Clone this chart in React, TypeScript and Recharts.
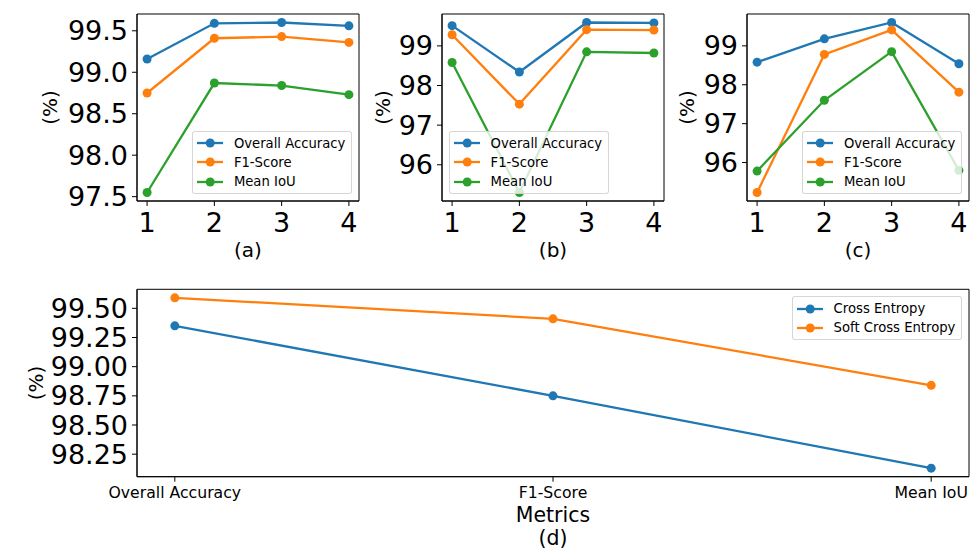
import {LineChart, Line, XAxis, YAxis, Legend, Label, ReferenceArea} from 'recharts';

const FONT = 'DejaVu Sans';
const COLORS = ['#1f77b4', '#ff7f0e', '#2ca02c'];

// panels (a)-(c): runs 1..4
const steps = [1, 2, 3, 4];
const metricNames = ['Overall Accuracy', 'F1-Score', 'Mean IoU'];

const aOverall = [99.16, 99.59, 99.60, 99.56];
const aF1 = [98.75, 99.41, 99.43, 99.36];
const aMiou = [97.55, 98.87, 98.84, 98.73];

const bOverall = [99.51, 98.34, 99.59, 99.58];
const bF1 = [99.28, 97.53, 99.41, 99.40];
const bMiou = [98.58, 95.30, 98.85, 98.82];

const cOverall = [98.58, 99.18, 99.60, 98.54];
const cF1 = [95.23, 98.78, 99.41, 97.81];
const cMiou = [95.78, 97.60, 98.85, 95.80];

const topTicksA = [97.5, 98.0, 98.5, 99.0, 99.5];
const topTicksBC = [96, 97, 98, 99];

// panel (d): loss comparison
const lossMetrics = ['Overall Accuracy', 'F1-Score', 'Mean IoU'];
const lossNames = ['Cross Entropy', 'Soft Cross Entropy'];
const crossEntropy = [99.35, 98.75, 98.13];
const softCrossEntropy = [99.59, 99.41, 98.84];
const dTicks = [98.25, 98.5, 98.75, 99.0, 99.25, 99.5];

// matplotlib-style 5% margins
const pad = (vals: number[]) => {
    const lo = Math.min(...vals);
    const hi = Math.max(...vals);
    const m = (hi - lo) * 0.05;
    return [lo - m, hi + m];
};

const makeLegend = (order: string[]) => ({payload}: any) => {
    const items = order.map(n => (payload || []).find((p: any) => p.value === n)).filter(Boolean);
    return (
        <div style={{
            background: 'rgba(255,255,255,0.8)',
            border: '1px solid rgba(204,204,204,0.8)',
            borderRadius: 3,
            padding: '2px 6px 2px 4px',
            fontFamily: FONT,
            fontSize: 13.2,
            color: '#000',
        }}>
            {items.map((p: any) => (
                <div key={p.value} style={{display: 'flex', alignItems: 'center', height: 19.3}}>
                    <svg width={26.4} height={10} style={{display: 'block'}}>
                        <line x1={0} y1={5} x2={26.4} y2={5} stroke={p.color} strokeWidth={2.3}/>
                        <circle cx={13.2} cy={5} r={4.5} fill={p.color}/>
                    </svg>
                    <span style={{marginLeft: 10.6, whiteSpace: 'nowrap', lineHeight: '19px'}}>{p.value}</span>
                </div>
            ))}
        </div>
    );
};

const tickStyle = {fontSize: 27, fill: '#000', fontFamily: FONT};
const axisLine = {stroke: '#000', strokeWidth: 1};
const dotFor = (c: string) => ({r: 4.5, fill: c, stroke: c, strokeWidth: 0});

interface PanelProps {
    left: number;
    yAxisW: number;
    yLabelOffset: number;
    overall: number[];
    f1: number[];
    miou: number[];
    ticks: number[];
    fmt: (v: number) => string;
    caption: string;
    legendSide: 'left' | 'right';
}

const PLOT_W = 222;
const PLOT_H = 187;
const TOP = 14;
const TOP_H = 290;
const X_DOMAIN = [0.85, 4.15];

const Panel = ({left, yAxisW, yLabelOffset, overall, f1, miou, ticks, fmt, caption, legendSide}: PanelProps) => {
    const rows = steps.map((x, i) => ({x, oa: overall[i], f1: f1[i], miou: miou[i]}));
    const width = yAxisW + PLOT_W + 3;
    const legendStyle: any = {width: 'auto', top: 'auto', bottom: TOP_H - (TOP + PLOT_H - 6.6)};
    if (legendSide === 'right') {
        legendStyle.left = 'auto';
        legendStyle.right = width - (yAxisW + PLOT_W - 6.6);
    } else {
        legendStyle.left = yAxisW + 6.6;
        legendStyle.right = 'auto';
    }
    const domain = pad([...overall, ...f1, ...miou]);
    return (
        <div style={{position: 'absolute', left, top: 0}}>
            <LineChart width={width} height={TOP_H} data={rows} margin={{top: TOP, right: 3, left: 0, bottom: 0}}>
                <XAxis type="number" dataKey="x" domain={X_DOMAIN} ticks={steps} height={TOP_H - TOP - PLOT_H}
                       tick={tickStyle} tickSize={5} tickMargin={7} axisLine={axisLine} tickLine={axisLine} interval={0}>
                    <Label value={caption} position="insideTop" offset={42}
                           style={{fontSize: 20, fill: '#000', fontFamily: FONT}}/>
                </XAxis>
                <YAxis type="number" domain={domain} ticks={ticks} tickFormatter={fmt} width={yAxisW} interval={0}
                       tick={tickStyle} tickSize={5} tickMargin={4} axisLine={axisLine} tickLine={axisLine}>
                    <Label value="(%)" angle={-90} position="insideLeft" offset={yLabelOffset}
                           style={{fontSize: 20, fill: '#000', fontFamily: FONT, textAnchor: 'middle'}}/>
                </YAxis>
                <ReferenceArea x1={X_DOMAIN[0]} x2={X_DOMAIN[1]} y1={domain[0]} y2={domain[1]}
                               fill="none" fillOpacity={0} stroke="#000" strokeWidth={1} ifOverflow="visible"/>
                <Legend layout="horizontal" verticalAlign="middle" align="center"
                        content={makeLegend(metricNames)} wrapperStyle={legendStyle}/>
                <Line dataKey="oa" name={metricNames[0]} stroke={COLORS[0]} strokeWidth={2.3}
                      dot={dotFor(COLORS[0])} isAnimationActive={false}/>
                <Line dataKey="f1" name={metricNames[1]} stroke={COLORS[1]} strokeWidth={2.3}
                      dot={dotFor(COLORS[1])} isAnimationActive={false}/>
                <Line dataKey="miou" name={metricNames[2]} stroke={COLORS[2]} strokeWidth={2.3}
                      dot={dotFor(COLORS[2])} isAnimationActive={false}/>
            </LineChart>
        </div>
    );
};

const D_X_DOMAIN = [-0.1, 2.1];

const LossPanel = () => {
    const rows = lossMetrics.map((name, i) => ({idx: i, name, ce: crossEntropy[i], sce: softCrossEntropy[i]}));
    const domain = pad([...crossEntropy, ...softCrossEntropy]);
    const width = 973;
    const height = 269;
    const top = 9.3;
    const plotH = 187.4;
    return (
        <div style={{position: 'absolute', left: 0, top: 280}}>
            <LineChart width={width} height={height} data={rows} margin={{top, right: 4, left: 0, bottom: 0}}>
                <XAxis dataKey="idx" type="number" domain={D_X_DOMAIN} ticks={[0, 1, 2]} interval={0}
                       tickFormatter={(i: number) => lossMetrics[i]} height={height - top - plotH}
                       tick={{fontSize: 15.7, fill: '#000', fontFamily: FONT}} tickSize={5} tickMargin={5}
                       axisLine={axisLine} tickLine={axisLine}>
                    <Label value="Metrics" position="insideTop" offset={31}
                           style={{fontSize: 20.5, fill: '#000', fontFamily: FONT}}/>
                    <Label value="(d)" position="insideTop" offset={54}
                           style={{fontSize: 20.5, fill: '#000', fontFamily: FONT}}/>
                </XAxis>
                <YAxis type="number" domain={domain} ticks={dTicks} tickFormatter={(v: number) => v.toFixed(2)}
                       interval={0} width={137} tick={tickStyle} tickSize={5} tickMargin={4}
                       axisLine={axisLine} tickLine={axisLine}>
                    <Label value="(%)" angle={-90} position="insideLeft" offset={36}
                           style={{fontSize: 20, fill: '#000', fontFamily: FONT, textAnchor: 'middle'}}/>
                </YAxis>
                <ReferenceArea x1={D_X_DOMAIN[0]} x2={D_X_DOMAIN[1]} y1={domain[0]} y2={domain[1]}
                               fill="none" fillOpacity={0} stroke="#000" strokeWidth={1} ifOverflow="visible"/>
                <Legend layout="horizontal" verticalAlign="middle" align="center" content={makeLegend(lossNames)}
                        wrapperStyle={{width: 'auto', left: 'auto', bottom: 'auto', right: 10.6, top: top + 6.6}}/>
                <Line dataKey="ce" name={lossNames[0]} stroke={COLORS[0]} strokeWidth={2.3}
                      dot={dotFor(COLORS[0])} isAnimationActive={false}/>
                <Line dataKey="sce" name={lossNames[1]} stroke={COLORS[1]} strokeWidth={2.3}
                      dot={dotFor(COLORS[1])} isAnimationActive={false}/>
            </LineChart>
        </div>
    );
};

export default function App() {
    return (
        <div style={{position: 'fixed', left: 0, top: 0, width: 973, height: 549, background: '#fff', fontFamily: FONT}}>
            <Panel left={0} yAxisW={137} yLabelOffset={50} overall={aOverall} f1={aF1} miou={aMiou}
                   ticks={topTicksA} fmt={(v) => v.toFixed(1)} caption="(a)" legendSide="right"/>
            <Panel left={320} yAxisW={122} yLabelOffset={63} overall={bOverall} f1={bF1} miou={bMiou}
                   ticks={topTicksBC} fmt={(v) => String(v)} caption="(b)" legendSide="left"/>
            <Panel left={640} yAxisW={107} yLabelOffset={47} overall={cOverall} f1={cF1} miou={cMiou}
                   ticks={topTicksBC} fmt={(v) => String(v)} caption="(c)" legendSide="right"/>
            <LossPanel/>
        </div>
    );
}
